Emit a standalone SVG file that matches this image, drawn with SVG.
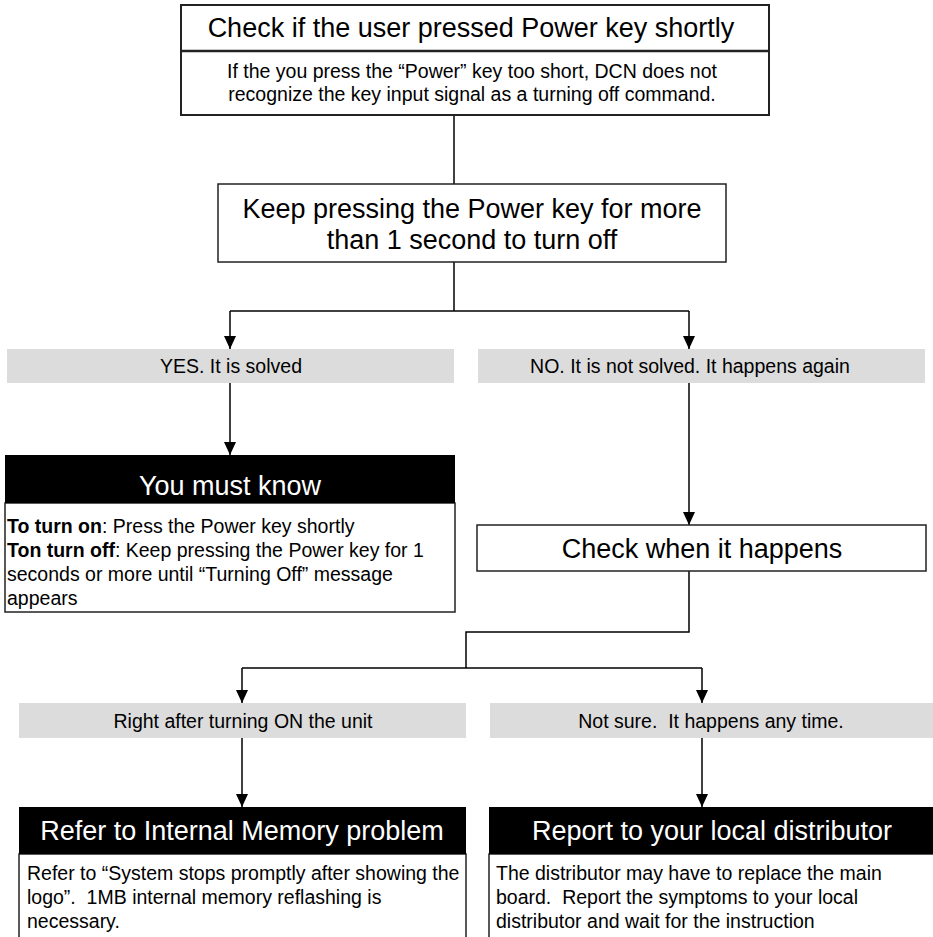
<svg xmlns="http://www.w3.org/2000/svg" width="933" height="937" viewBox="0 0 933 937">
<defs>
<marker id="arr" viewBox="0 0 13 12" refX="13" refY="6" markerWidth="13" markerHeight="12" markerUnits="userSpaceOnUse" orient="auto">
<path d="M0,0 L13,6 L0,12 Z" fill="#000"/>
</marker>
<style>
text{font-family:"Liberation Sans",Arial,sans-serif;fill:#000;white-space:pre}
.big{font-size:27px}
.sm{font-size:19.5px}
.c{text-anchor:middle}
.w{fill:#fff}
.box{fill:#fff;stroke:#222;stroke-width:1.5}
.gray{fill:#dcdcdc}
.blk{fill:#000}
.ln{fill:none;stroke:#000;stroke-width:1.5}
</style>
</defs>
<rect width="933" height="937" fill="#fff"/>

<g id="connectors">
<path class="ln" d="M454,115 V184"/>
<path class="ln" d="M454,262 V311"/>
<path class="ln" d="M230,311 H689"/>
<path class="ln" d="M230,311 V349" marker-end="url(#arr)"/>
<path class="ln" d="M689,311 V349" marker-end="url(#arr)"/>
<path class="ln" d="M230,383 V455" marker-end="url(#arr)"/>
<path class="ln" d="M689,383 V525" marker-end="url(#arr)"/>
<path class="ln" d="M689,571 V632 H466 V668"/>
<path class="ln" d="M242,668 H702"/>
<path class="ln" d="M242,668 V703" marker-end="url(#arr)"/>
<path class="ln" d="M702,668 V703" marker-end="url(#arr)"/>
<path class="ln" d="M242,738 V807" marker-end="url(#arr)"/>
<path class="ln" d="M702,738 V807" marker-end="url(#arr)"/>
</g>

<g id="check-short">
<rect class="box" x="181" y="5" width="588" height="110" style="stroke-width:2"/>
<line x1="181" y1="51" x2="769" y2="51" stroke="#222" stroke-width="2.5"/>
<text class="big c" x="471" y="37">Check if the user pressed Power key shortly</text>
<text class="sm c" x="472" y="78">If the you press the “Power” key too short, DCN does not</text>
<text class="sm c" x="472" y="101">recognize the key input signal as a turning off command.</text>
</g>

<g id="keep-pressing">
<rect class="box" x="218" y="184" width="508" height="78"/>
<text class="big c" x="472" y="218">Keep pressing the Power key for more</text>
<text class="big c" x="472" y="249">than 1 second to turn off</text>
</g>

<g id="yes">
<rect class="gray" x="7" y="349" width="447" height="34"/>
<text class="sm c" x="231" y="373">YES. It is solved</text>
</g>

<g id="no">
<rect class="gray" x="478" y="349" width="447" height="34"/>
<text class="sm c" x="690" y="373">NO. It is not solved. It happens again</text>
</g>

<g id="must-know">
<rect class="box" x="5" y="503" width="450" height="109"/>
<rect class="blk" x="5" y="455" width="450" height="48"/>
<text class="big c w" x="230" y="495">You must know</text>
<text class="sm" x="7" y="533"><tspan font-weight="bold">To turn on</tspan>: Press the Power key shortly</text>
<text class="sm" x="7" y="557"><tspan font-weight="bold">Ton turn off</tspan>: Keep pressing the Power key for 1</text>
<text class="sm" x="7" y="581">seconds or more until “Turning Off” message</text>
<text class="sm" x="7" y="605">appears</text>
</g>

<g id="check-when">
<rect class="box" x="477" y="525" width="449" height="46"/>
<text class="big c" x="702" y="558">Check when it happens</text>
</g>

<g id="right-after">
<rect class="gray" x="19" y="703" width="447" height="35"/>
<text class="sm c" x="243" y="728">Right after turning ON the unit</text>
</g>

<g id="not-sure">
<rect class="gray" x="490" y="703" width="447" height="35"/>
<text class="sm c" x="711" y="728">Not sure.  It happens any time.</text>
</g>

<g id="internal-memory">
<rect class="box" x="19" y="854" width="447" height="100"/>
<rect class="blk" x="19" y="807" width="447" height="47"/>
<text class="big c w" x="242" y="840">Refer to Internal Memory problem</text>
<text class="sm" x="27" y="880">Refer to “System stops promptly after showing the</text>
<text class="sm" x="27" y="904">logo”.  1MB internal memory reflashing is</text>
<text class="sm" x="27" y="928">necessary.</text>
</g>

<g id="distributor">
<rect class="box" x="489" y="854" width="447" height="100"/>
<rect class="blk" x="489" y="807" width="447" height="47"/>
<text class="big c w" x="712" y="840">Report to your local distributor</text>
<text class="sm" x="496" y="880">The distributor may have to replace the main</text>
<text class="sm" x="496" y="904">board.  Report the symptoms to your local</text>
<text class="sm" x="496" y="928">distributor and wait for the instruction</text>
</g>
</svg>
